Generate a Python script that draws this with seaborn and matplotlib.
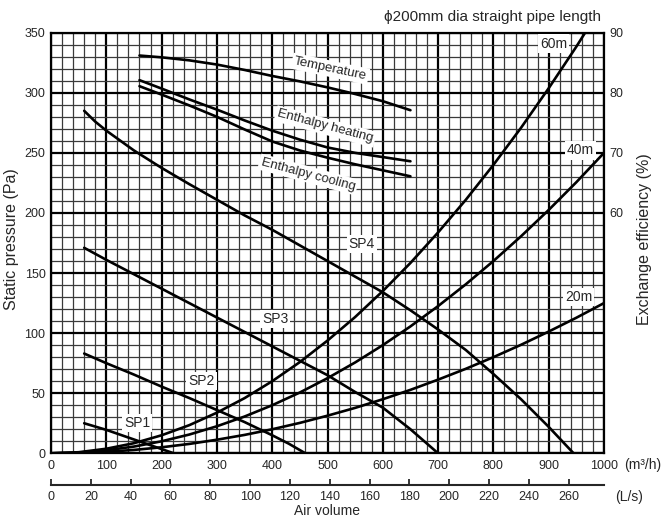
import numpy as np
import pandas as pd
import matplotlib
matplotlib.use('Agg')
import matplotlib.pyplot as plt
from matplotlib.ticker import MultipleLocator
import seaborn as sns

# =========================================================
# DATA
# =========================================================

# duct resistance curves, static pressure (Pa) vs air volume (m3/h)
duct_flow = [0, 50, 100, 150, 200, 250, 300, 350, 400, 450, 500,
             550, 600, 650, 700, 750, 800, 850, 900, 950, 1000]
duct_20m = [0, 0.3, 1.25, 2.8, 5, 7.8, 11.3, 15.3, 20, 25.3, 31.3,
            37.8, 45, 52.8, 61.3, 70.3, 80, 90.3, 101.3, 112.8, 125]
duct_40m = [0, 0.6, 2.5, 5.6, 10, 15.6, 22.5, 30.6, 40, 50.6, 62.5,
            75.6, 90, 105.6, 122.5, 140.6, 160, 180.6, 202.5, 225.6, 250]
duct_60m = [0, 0.9, 3.8, 8.4, 15, 23.4, 33.8, 45.9, 60, 75.9, 93.8,
            113.4, 135, 158.4, 183.8, 210.9, 240, 270.9, 303.8, 338.4, 375]

# fan curves
sp1_flow = [60, 100, 150, 200, 222]
sp1_pa = [25, 19.5, 11.5, 3.5, 0]
sp2_flow = [60, 100, 150, 200, 250, 300, 350, 400, 430, 460]
sp2_pa = [83, 75, 65.5, 55.5, 46, 36, 26, 15, 8, 0]
sp3_flow = [60, 100, 150, 200, 250, 300, 350, 400, 450, 500, 550, 600, 650, 700]
sp3_pa = [171, 161, 149, 137, 125, 113, 101, 89, 77, 65, 51, 38, 20, 0]
sp4_flow = [60, 80, 100, 150, 200, 250, 300, 350, 400, 450, 500, 550,
            600, 650, 700, 750, 800, 850, 900, 945]
sp4_pa = [285, 276, 268.5, 252, 237.5, 224, 211, 198, 186, 173, 160, 147,
          134, 119, 103, 86, 66, 45, 22, 0]

# exchange efficiency (%)
eff_flow = [160, 200, 250, 300, 350, 400, 450, 500, 550, 600, 650]
eff_temp = [86.2, 85.9, 85.4, 84.7, 83.8, 82.8, 81.9, 80.9, 79.8, 78.6, 77.1]
eff_heat = [82.1, 80.7, 78.9, 77.2, 75.4, 73.7, 72.2, 70.9, 70.0, 69.3, 68.6]
eff_cool = [81.1, 79.7, 77.9, 76.0, 73.9, 71.9, 70.4, 69.2, 68.1, 67.1, 66.1]

x_ticks = list(range(0, 1001, 100))
y_ticks = list(range(0, 351, 50))
eff_ticks = [60, 70, 80, 90]
ls_ticks = list(range(0, 261, 20))

# =========================================================
# STYLE
# =========================================================

sns.set_style('white')
plt.rcParams['font.family'] = ['Liberation Sans', 'DejaVu Sans']
plt.rcParams['font.size'] = 10

fig = plt.figure(figsize=(6.64, 5.19), dpi=100)
ax = fig.add_axes([51 / 664, 65.7 / 519, 553 / 664, 420.6 / 519])

ax.set_xlim(0, 1000)
ax.set_ylim(0, 350)
ax.set_xticks(x_ticks)
ax.set_yticks(y_ticks)
ax.xaxis.set_minor_locator(MultipleLocator(20))
ax.yaxis.set_minor_locator(MultipleLocator(10))
ax.grid(which='major', color='black', lw=1.6)
ax.grid(which='minor', color='#3a3a3a', lw=0.9)
ax.set_axisbelow(True)
ax.tick_params(which='both', length=0)
ax.tick_params(axis='x', pad=5, labelsize=9)
ax.tick_params(axis='y', pad=4, labelsize=9)
for s in ax.spines.values():
    s.set_color('black')
    s.set_linewidth(1.6)

line_kw = dict(color='black', lw=1.9, estimator=None, legend=False)

for fl, pa in [(duct_flow, duct_20m), (duct_flow, duct_40m), (duct_flow, duct_60m),
               (sp1_flow, sp1_pa), (sp2_flow, sp2_pa), (sp3_flow, sp3_pa), (sp4_flow, sp4_pa)]:
    sns.lineplot(x=fl, y=pa, ax=ax, **line_kw)

ax.set_ylabel('Static pressure (Pa)', fontsize=11.5)
ax.yaxis.set_label_coords(-32 / 553, 0.51)
ax.set_xlabel('')

# right axis
ax2 = ax.twinx()
ax2.set_ylim(20, 90)
ax2.set_yticks(eff_ticks)
ax2.tick_params(length=0, pad=4, labelsize=9)
ax2.grid(False)
for s in ax2.spines.values():
    s.set_visible(False)
for vals in [eff_temp, eff_heat, eff_cool]:
    sns.lineplot(x=eff_flow, y=vals, ax=ax2, **line_kw)
ax2.set_ylabel('Exchange efficiency (%)', fontsize=11.5, rotation=90)
ax2.yaxis.set_label_coords(1 + 33 / 553, 0.51)
ax2.set_xlim(0, 1000)

# curve labels
box = dict(facecolor='white', edgecolor='none', pad=1.5)
labels = [
    ('Temperature', 505, 320, -12, 9.5),
    ('Enthalpy heating', 496, 272, -15, 9.5),
    ('Enthalpy cooling', 465, 232, -15, 9.5),
    ('60m', 909, 341, 0, 10),
    ('40m', 957, 252, 0, 10),
    ('20m', 954, 130, 0, 10),
    ('SP4', 562, 174.5, 0, 10),
    ('SP3', 405, 112, 0, 10),
    ('SP2', 272, 60.5, 0, 10),
    ('SP1', 156, 25.5, 0, 10),
]
for txt, lx, ly, rot, fs in labels:
    ax2.text(lx, ly, txt, transform=ax.transData, ha='center', va='center',
             rotation=rot, fontsize=fs, bbox=box, zorder=5)

# secondary air volume axis in L/s
sec = ax.secondary_xaxis(-0.0754, functions=(lambda q: q / 3.6, lambda l: l * 3.6))
sec.set_xticks(ls_ticks)
sec.tick_params(direction='in', length=4, width=1.3, pad=4, labelsize=9)
sec.spines['bottom'].set_linewidth(1.5)
sec.set_xlabel('Air volume', fontsize=10, labelpad=1)

fig.text(624 / 664, 1 - 465 / 519, '(m³/h)', ha='left', va='center', fontsize=10)
fig.text(615 / 664, 1 - 497 / 519, '(L/s)', ha='left', va='center', fontsize=10)
fig.text(601 / 664, 1 - 17 / 519, 'ϕ200mm dia straight pipe length',
         ha='right', va='center', fontsize=11)

fig.savefig('out.png', dpi=100)
